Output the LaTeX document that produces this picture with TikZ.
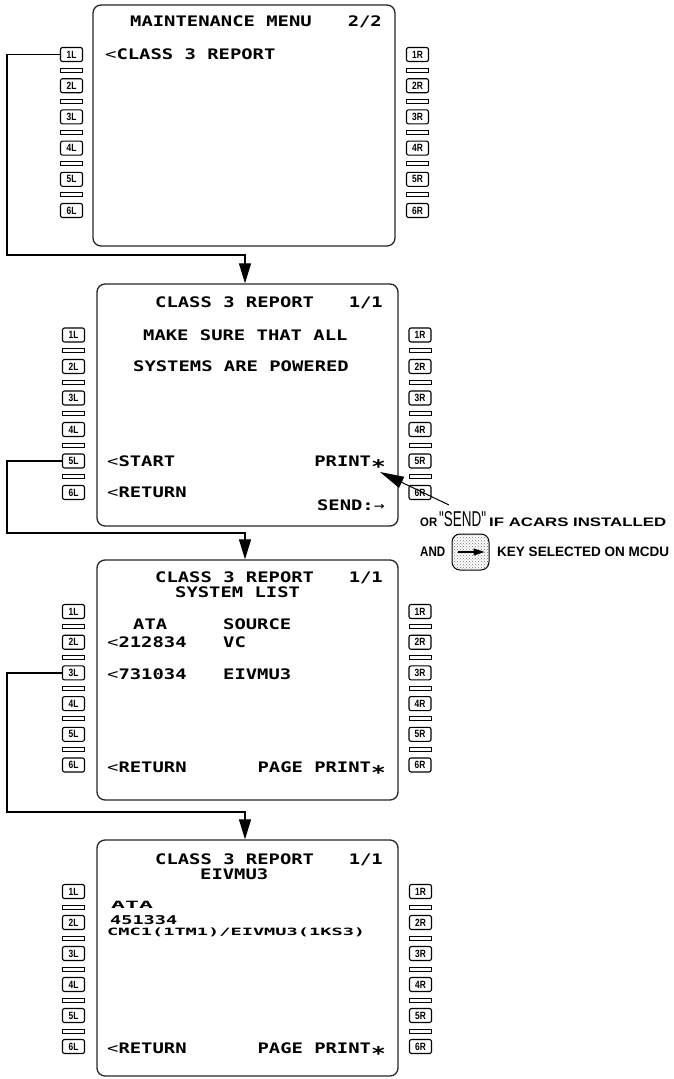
\documentclass[tikz,border=0pt]{standalone}
\usepackage{fontspec}
\usetikzlibrary{arrows.meta,patterns}
\newfontfamily\mcdufont[FakeStretch=1.3]{DejaVu Sans Mono}
\newfontfamily\keyfont[FakeStretch=0.8]{Liberation Sans}
\newfontfamily\annfont{Liberation Sans}
\newfontfamily\sendfont[FakeStretch=0.7,Ligatures=TeXOff]{Liberation Sans}
\newcommand\lt{{\mdseries<}}
\newcommand\pstar{\raisebox{-7.5pt}{\scalebox{1.3}{*}}}
\newcommand\mcdukeys[5]{%
  \foreach \i in {1,...,6}{%
    \pgfmathsetmacro\yy{#2+(\i-1)*#3}%
    \node[keybox] (#1L\i) at (#4,\yy) {\i L};
    \node[keybox] (#1R\i) at (#5,\yy) {\i R};
  }%
  \foreach \i in {1,...,5}{%
    \pgfmathsetmacro\yy{#2+(\i-0.5)*#3}%
    \node[barbox] (#1LB\i) at (#4,\yy) {};
    \node[barbox] (#1RB\i) at (#5,\yy) {};
  }%
}
\begin{document}
\begin{tikzpicture}[x=1pt,y=-1pt,
  mt/.style={font=\mcdufont\bfseries\fontsize{14.5}{16}\selectfont, inner sep=0pt, anchor=base west},
  mtr/.style={mt, anchor=base east},
  keybox/.style={draw, line width=1.1pt, rounded corners=2pt, minimum width=22pt, minimum height=14pt, inner sep=0pt, font=\keyfont\bfseries\fontsize{10.5}{11}\selectfont},
  barbox/.style={draw, line width=1pt, minimum width=22pt, minimum height=4pt, inner sep=0pt},
  screen/.style={draw, black!85, line width=1.3pt, rounded corners=8pt, inner sep=0pt},
  conn/.style={line width=1.2pt, -{Triangle[length=20pt,width=12pt]}},
  ann/.style={font=\annfont\bfseries, inner sep=0pt, anchor=base west}
]
\useasboundingbox (0,0) rectangle (673,1079);

% ---------- screens ----------
\node[screen, minimum width=302pt, minimum height=241pt] (scr1) at (244,125.5) {};
\node[screen, minimum width=301pt, minimum height=242pt] (scr2) at (247.5,405) {};
\node[screen, minimum width=301pt, minimum height=240pt] (scr3) at (247.5,680) {};
\node[screen, minimum width=301pt, minimum height=236pt] (scr4) at (247.5,958) {};

% ---------- keys ----------
\mcdukeys{a}{54.5}{31.2}{71.5}{417.5}
\mcdukeys{b}{335}{31.5}{73.5}{420}
\mcdukeys{c}{611.5}{30.7}{73.5}{420}
\mcdukeys{d}{891.5}{31}{73.5}{420.5}

% ---------- screen 1 ----------
\node[mt] (a_t1) at (130,26.7) {MAINTENANCE MENU};
\node[mtr] (a_pg) at (382,26.7) {2/2};
\node[mt] (a_l1) at (105,59.3) {\lt CLASS 3 REPORT};

% ---------- screen 2 ----------
\node[mt] (b_t1) at (155,307.3) {CLASS 3 REPORT};
\node[mtr] (b_pg) at (383,307.3) {1/1};
\node[mt] (b_m1) at (143,340.5) {MAKE SURE THAT ALL};
\node[mt] (b_m2) at (133,371.7) {SYSTEMS ARE POWERED};
\node[mt] (b_start) at (107,466) {\lt START};
\node[mtr] (b_print) at (386,466) {PRINT\pstar};
\node[mt] (b_ret) at (107,497.7) {\lt RETURN};
\node[mtr] (b_send) at (385,510.7) {SEND:{\mdseries\fontsize{14}{14}\selectfont →}};

% ---------- screen 3 ----------
\node[mt] (c_t1) at (155,582.7) {CLASS 3 REPORT};
\node[mt] (c_t2) at (175,597.3) {SYSTEM LIST};
\node[mtr] (c_pg) at (383,582.7) {1/1};
\node[mt] (c_ata) at (133,629.3) {ATA};
\node[mt] (c_src) at (223,629.3) {SOURCE};
\node[mt] (c_r1) at (107,647.3) {\lt 212834};
\node[mt] (c_s1) at (223,647.3) {VC};
\node[mt] (c_r2) at (107,679.3) {\lt 731034};
\node[mt] (c_s2) at (223,679.3) {EIVMU3};
\node[mt] (c_ret) at (107,772.3) {\lt RETURN};
\node[mtr] (c_print) at (386,772.3) {PAGE PRINT\pstar};

% ---------- screen 4 ----------
\node[mt] (d_t1) at (155,864) {CLASS 3 REPORT};
\node[mt] (d_t2) at (200,879) {EIVMU3};
\node[mtr] (d_pg) at (383,864) {1/1};
\node[mt] (d_ata) at (111,908.3) {\resizebox{42pt}{7.3pt}{ATA}};
\node[mt] (d_num) at (110,924) {\resizebox{67pt}{9pt}{451334}};
\node[mt] (d_cmc) at (107,935.7) {\resizebox{258pt}{7.6pt}{CMC1(1TM1)/EIVMU3(1KS3)}};
\node[mt] (d_ret) at (107,1053.3) {\lt RETURN};
\node[mtr] (d_print) at (386,1053.3) {PAGE PRINT\pstar};

% ---------- connectors ----------
\coordinate (j1) at (7,255);
\coordinate (j1b) at (245,255);
\draw[conn] (aL1.west) -| (j1) -- (j1b) -- (j1b |- scr2.north);
\coordinate (j2) at (7,533);
\coordinate (j2b) at (245,533);
\draw[conn] (bL5.west) -| (j2) -- (j2b) -- (j2b |- scr3.north);
\coordinate (j3) at (7,812);
\coordinate (j3b) at (245,812);
\draw[conn] (cL3.west) -| (j3) -- (j3b) -- (j3b |- scr4.north);

% ---------- annotation ----------
\coordinate (sendtail) at (449,505);
\coordinate (sendtip) at (380,472);
\draw[line width=1pt, -{Triangle[length=24pt,width=12pt]}] (sendtail) -- (sendtip);
\node[ann] (a_or) at (420,526.5) {\resizebox{17pt}{8.6pt}{OR}};
\node[inner sep=0pt, anchor=base west] (a_sendq) at (439,526.5) {\resizebox{47pt}{15pt}{\sendfont "SEND"}};
\node[ann] (a_if) at (489,526.5) {\resizebox{177pt}{8.6pt}{IF ACARS INSTALLED}};
\node[ann] (a_and) at (420,556.7) {\resizebox{25pt}{9.5pt}{AND}};
\node[draw, line width=1pt, rounded corners=8pt, minimum width=37pt, minimum height=36pt, inner sep=0pt, pattern=crosshatch dots, pattern color=black!55] (sendkey) at (470.5,552) {};
\draw[line width=1.1pt, -{Triangle[length=11pt,width=7pt]}] ([xshift=-13pt]sendkey.center) -- ([xshift=14pt]sendkey.center);
\node[ann] (a_key) at (497,556.7) {\resizebox{172pt}{9.5pt}{KEY SELECTED ON MCDU}};
\end{tikzpicture}
\end{document}
